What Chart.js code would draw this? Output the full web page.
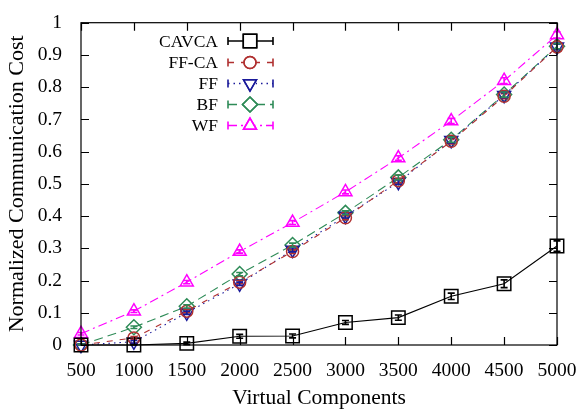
<!DOCTYPE html>
<html><head><meta charset="utf-8">
<script src="https://cdn.jsdelivr.net/npm/chart.js@4/dist/chart.umd.min.js"></script>
<style>html,body{margin:0;padding:0;background:#fff}#wrap{width:586px;height:413px}</style>
</head><body><div id="wrap"><canvas id="c" width="586" height="413"></canvas></div>
<script>
const categories = [500,1000,1500,2000,2500,3000,3500,4000,4500,5000];
const cavca   = [0.0,0.0,0.005,0.027,0.028,0.070,0.085,0.151,0.190,0.307];
const cavcaErr= [0.003,0.003,0.004,0.006,0.006,0.006,0.008,0.010,0.012,0.016];
const ffca    = [0.0,0.022,0.105,0.195,0.29,0.395,0.51,0.632,0.772,0.925];
const ffcaErr = [0.003,0.004,0.005,0.005,0.006,0.006,0.007,0.008,0.008,0.008];
const ff      = [0.0,0.010,0.100,0.190,0.295,0.400,0.505,0.635,0.775,0.925];
const ffErr   = [0.003,0.004,0.005,0.005,0.006,0.006,0.007,0.008,0.008,0.008];
const bf      = [0.0,0.055,0.120,0.220,0.310,0.410,0.520,0.637,0.777,0.927];
const bfErr   = [0.003,0.004,0.005,0.005,0.006,0.006,0.007,0.008,0.008,0.008];
const wf      = [0.035,0.105,0.195,0.290,0.380,0.475,0.580,0.695,0.820,0.962];
const wfErr   = [0.004,0.004,0.005,0.005,0.006,0.006,0.007,0.008,0.009,0.010];
const yTicks  = [0,0.1,0.2,0.3,0.4,0.5,0.6,0.7,0.8,0.9,1];

const FONT = "'Liberation Serif', 'DejaVu Serif', serif";
const series = [
  {label:'CAVCA', data:cavca, err:cavcaErr, color:'#000000', dash:[], style:'rect', r:9.5, rot:0},
  {label:'FF-CA', data:ffca, err:ffcaErr, color:'#b03030', dash:[6,7], style:'circle', r:6, rot:0},
  {label:'FF', data:ff, err:ffErr, color:'#1a1a9a', dash:[1.5,4], style:'triangle', r:7.5, rot:180},
  {label:'BF', data:bf, err:bfErr, color:'#2e8b57', dash:[9,5], style:'rectRot', r:7.5, rot:0},
  {label:'WF', data:wf, err:wfErr, color:'#ff00ff', dash:[9,4,2,4], style:'triangle', r:7.5, rot:0}
];

const datasets = series.map(s => ({
  label: s.label,
  data: categories.map((x,i)=>({x:x, y:s.data[i]})),
  errs: s.err,
  borderColor: s.color,
  backgroundColor: 'rgba(0,0,0,0)',
  borderWidth: 1.1,
  borderDash: s.dash,
  pointStyle: s.style,
  pointRadius: s.r,
  pointRotation: s.rot,
  pointBorderWidth: 1.5,
  pointBorderColor: s.color,
  pointBackgroundColor: 'rgba(0,0,0,0)',
  tension: 0,
  clip: false
}));

const errPlugin = {
  id:'errbars',
  afterDatasetsDraw(chart){
    const ctx = chart.ctx, xs = chart.scales.x, ys = chart.scales.y;
    chart.data.datasets.forEach(ds=>{
      ctx.save();
      ctx.strokeStyle = ds.borderColor; ctx.lineWidth = 1.6; ctx.setLineDash([]);
      ds.data.forEach((p,i)=>{
        const e = ds.errs[i];
        const px = xs.getPixelForValue(p.x);
        const y1 = ys.getPixelForValue(Math.max(0,p.y - e)), y2 = ys.getPixelForValue(p.y + e);
        ctx.beginPath();
        ctx.moveTo(px,y1); ctx.lineTo(px,y2);
        ctx.moveTo(px-3.5,y1); ctx.lineTo(px+3.5,y1);
        ctx.moveTo(px-3.5,y2); ctx.lineTo(px+3.5,y2);
        ctx.stroke();
      });
      ctx.restore();
    });
  }
};

const framePlugin = {
  id:'frame',
  afterDraw(chart){
    const ctx = chart.ctx, a = chart.chartArea, xs = chart.scales.x, ys = chart.scales.y;
    ctx.save();
    ctx.strokeStyle = '#000'; ctx.lineWidth = 1.2; ctx.setLineDash([]);
    ctx.strokeRect(a.left, a.top, a.right-a.left, a.bottom-a.top);
    ctx.beginPath();
    const tl = 8;
    categories.forEach(v=>{
      const px = Math.round(xs.getPixelForValue(v))+0.5;
      ctx.moveTo(px,a.bottom); ctx.lineTo(px,a.bottom-tl);
      ctx.moveTo(px,a.top); ctx.lineTo(px,a.top+tl);
    });
    yTicks.forEach(v=>{
      const py = Math.round(ys.getPixelForValue(v))+0.5;
      ctx.moveTo(a.left,py); ctx.lineTo(a.left+tl,py);
      ctx.moveTo(a.right,py); ctx.lineTo(a.right-tl,py);
    });
    ctx.stroke();

    // legend
    const textRight = 218, x0 = 228, x1 = 273, xm = 250;
    const rows = [41,62.5,83.5,104.5,125.5];
    ctx.font = "17.5px " + FONT;
    ctx.textAlign = 'right'; ctx.textBaseline = 'middle';
    chart.data.datasets.forEach((ds,i)=>{
      const y = rows[i];
      ctx.fillStyle = '#000';
      ctx.fillText(ds.label, textRight, y+1);
      ctx.strokeStyle = ds.borderColor;
      ctx.lineWidth = 1.6;
      ctx.setLineDash(ds.borderDash);
      ctx.beginPath(); ctx.moveTo(x0,y); ctx.lineTo(x1,y); ctx.stroke();
      ctx.setLineDash([]);
      ctx.beginPath();
      ctx.moveTo(x0,y-4); ctx.lineTo(x0,y+4);
      ctx.moveTo(x1,y-4); ctx.lineTo(x1,y+4);
      ctx.stroke();
      ctx.fillStyle = '#fff';
      ctx.beginPath(); ctx.arc(xm,y,ds.pointRadius*0.75,0,Math.PI*2); ctx.fill();
      ctx.lineWidth = 1.5;
      Chart.helpers.drawPoint(ctx, {pointStyle: ds.pointStyle, rotation: ds.pointRotation, radius: ds.pointRadius, borderWidth:1.5}, xm, y);
      ctx.stroke();
    });
    ctx.restore();
  }
};

new Chart(document.getElementById('c'), {
  type:'line',
  data:{datasets},
  options:{
    responsive:false, animation:false,
    layout:{padding:{left:0,right:29,top:13,bottom:0}},
    plugins:{legend:{display:false}, tooltip:{enabled:false}},
    scales:{
      x:{type:'linear', min:500, max:5000,
        afterBuildTicks(s){ s.ticks = categories.map(v=>({value:v})); },
        grid:{display:false}, border:{display:false},
        ticks:{color:'#000', font:{family:FONT,size:19.5}, padding:6, maxRotation:0, autoSkip:false,
          callback:(v)=>String(v)},
        title:{display:true, text:'Virtual Components', color:'#000', font:{family:FONT,size:21.5}, padding:{top:2,bottom:2}},
        afterFit(s){ s.height = 68; }
      },
      y:{type:'linear', min:0, max:1,
        afterBuildTicks(s){ s.ticks = yTicks.map(v=>({value:v})); },
        grid:{display:false}, border:{display:false},
        ticks:{color:'#000', font:{family:FONT,size:19.5}, padding:11, callback:(v)=>String(v)},
        title:{display:true, text:'Normalized Communication Cost', color:'#000', font:{family:FONT,size:22}, padding:{top:4,bottom:0}},
        afterFit(s){ s.width = 81; }
      }
    }
  },
  plugins:[errPlugin, framePlugin]
});
</script></body></html>
